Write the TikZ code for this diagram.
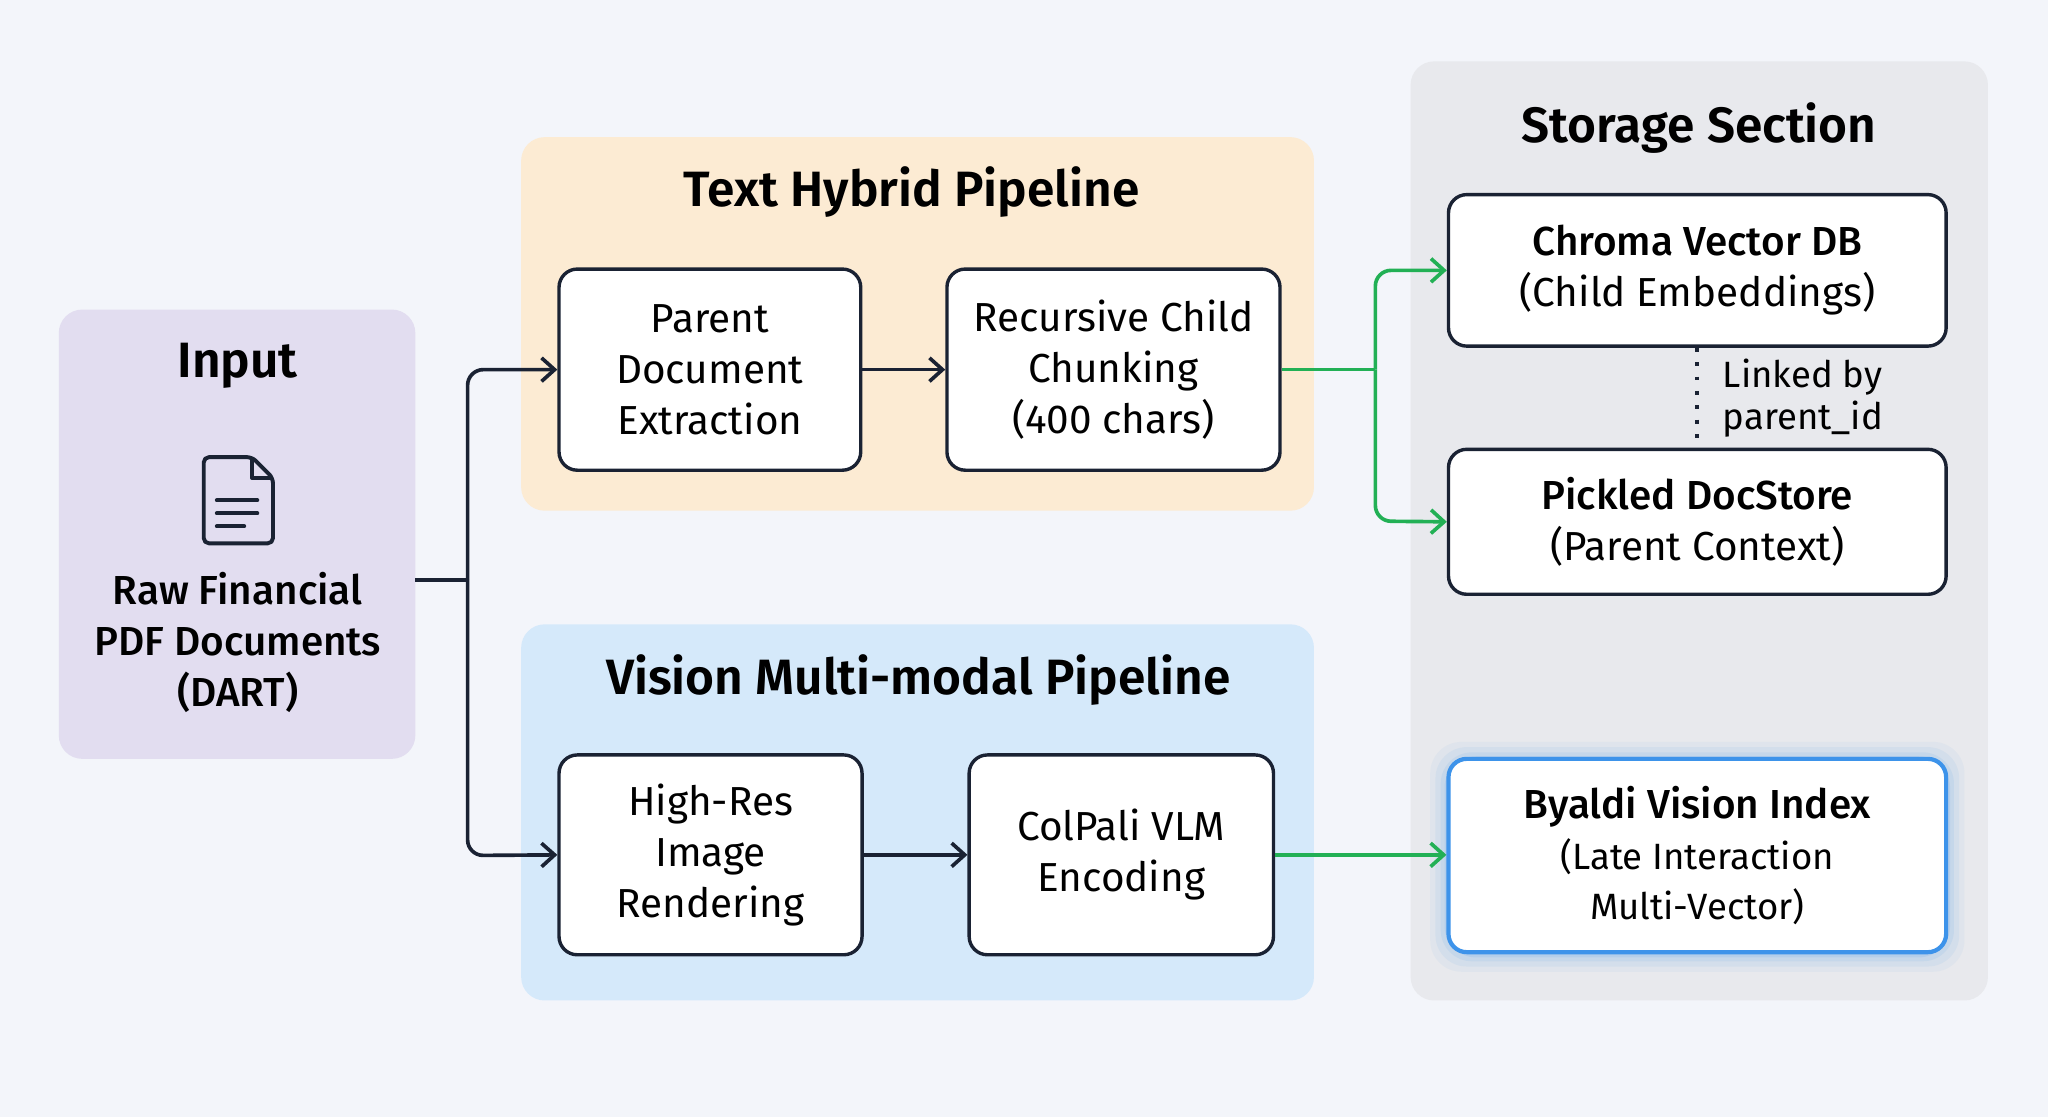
\documentclass[tikz,border=0pt]{standalone}
\usepackage{fontspec}
\setmainfont{Fira Sans}[BoldFont={Fira Sans SemiBold}]
\newfontfamily\medf{Fira Sans Medium}
\usetikzlibrary{arrows.meta}
\definecolor{bg}{HTML}{F3F5FA}
\definecolor{inp}{HTML}{E2DDF0}
\definecolor{txp}{HTML}{FCEBD3}
\definecolor{vip}{HTML}{D5E9FA}
\definecolor{stp}{HTML}{E8E9ED}
\definecolor{grn}{HTML}{22B055}
\definecolor{blu}{HTML}{3D93EA}
\definecolor{dk}{HTML}{1A2233}
\newcommand{\smf}{\fontsize{14}{18}\selectfont}
\begin{document}
\begin{tikzpicture}[x=0.5pt,y=-0.5pt,
  panel/.style={rounded corners=9pt,draw=none},
  box/.style={draw=dk,line width=1.3pt,fill=white,rounded corners=7pt},
  ttl/.style={font=\fontsize{19}{23}\selectfont\bfseries,text=black},
  bt/.style={font=\fontsize{15.5}{19.5}\selectfont,align=center,text=black},
  conn/.style={line width=1.4pt,rounded corners=6pt,-{Straight Barb[length=5pt,width=9pt]}},
  blk/.style={conn,draw=dk},
  gr/.style={conn,draw=grn}]
\fill[bg] (0,0) rectangle (1568,855);
\useasboundingbox (0,0) rectangle (1568,855);
% panels
\fill[panel,inp] (45,237) rectangle (318,581);
\fill[panel,txp] (399,105) rectangle (1006,391);
\fill[panel,vip] (399,478) rectangle (1006,766);
\fill[panel,stp] (1080,47) rectangle (1522,766);
\node[ttl] (tinp) at (182,280) {Input};
\node[ttl] (ttxt) at (698,147) {Text Hybrid Pipeline};
\node[ttl] (tvis) at (703,521) {Vision Multi-modal Pipeline};
\node[ttl] (tsto) at (1301,98) {Storage Section};
% document icon
\draw[dk,line width=1.5pt,line join=round,rounded corners=2pt]
  (156,350) -- (193,350) -- (209,366) -- (209,416) -- (156,416) -- cycle;
\draw[dk,line width=1.5pt,line join=round] (193,350) -- (193,366) -- (209,366);
\draw[dk,line width=1.5pt,line cap=round] (166,383)--(197,383) (166,393)--(197,393) (166,403)--(187,403);
\node[bt] (raw) at (182,492) {\medf Raw Financial\\ \medf PDF Documents\\ \medf (DART)};
\coordinate (inr) at (318,444);
% glow
\foreach \g/\o in {14/0.05,10/0.07,6/0.09,3/0.12}
  \fill[blu,opacity=\o,rounded corners=12pt] (1109-\g,582-\g) rectangle (1490+\g,730+\g);
% boxes
\node[box,bt,minimum width=115.5pt,minimum height=77pt] (par) at (543.5,283) {Parent\\Document\\Extraction};
\node[box,bt,minimum width=127.5pt,minimum height=77pt] (rec) at (852.5,283) {Recursive Child\\Chunking\\(400 chars)};
\node[box,bt,minimum width=116pt,minimum height=76.5pt] (hig) at (544,654.5) {High-Res\\Image\\Rendering};
\node[box,bt,minimum width=116.5pt,minimum height=76.5pt] (col) at (858.5,654.5) {ColPali VLM\\Encoding};
\node[box,bt,minimum width=190.5pt,minimum height=58pt] (chr) at (1299.5,207) {\medf Chroma Vector DB\\(Child Embeddings)};
\node[box,bt,minimum width=190.5pt,minimum height=55.5pt] (pic) at (1299.5,399.5) {\medf Pickled DocStore\\(Parent Context)};
\node[box,bt,draw=blu,line width=1.6pt,minimum width=190.5pt,minimum height=74pt] (bya) at (1299.5,655) {\medf Byaldi Vision Index\\ \smf (Late Interaction\\ \smf Multi-Vector)};
% dotted link
\draw[dk,line width=1.6pt,dash pattern=on 1.5pt off 4pt] (chr.south) -- (pic.north);
\node[font=\fontsize{14}{16}\selectfont,align=left,anchor=west] (lnk) at (1312,305) {Linked by\\parent\_id};
% connectors
\coordinate (br) at (358,444);
\draw[dk,line width=1.4pt] (inr) -- (br);
\draw[blk] (br) -- (358,283) -- (par.west);
\draw[blk] (br) -- (358,655) -- (hig.west);
\draw[blk] (par) -- (rec);
\draw[blk] (hig) -- (col);
\coordinate (gb) at (1053,283);
\draw[grn,line width=1.4pt] (rec.east) -- (gb);
\draw[gr] (gb) -- (1053,207) -- (chr.west);
\draw[gr] (gb) -- (1053,399) -- (pic.west);
\draw[gr] (col.east) -- (col.east -| bya.west);
\end{tikzpicture}
\end{document}
